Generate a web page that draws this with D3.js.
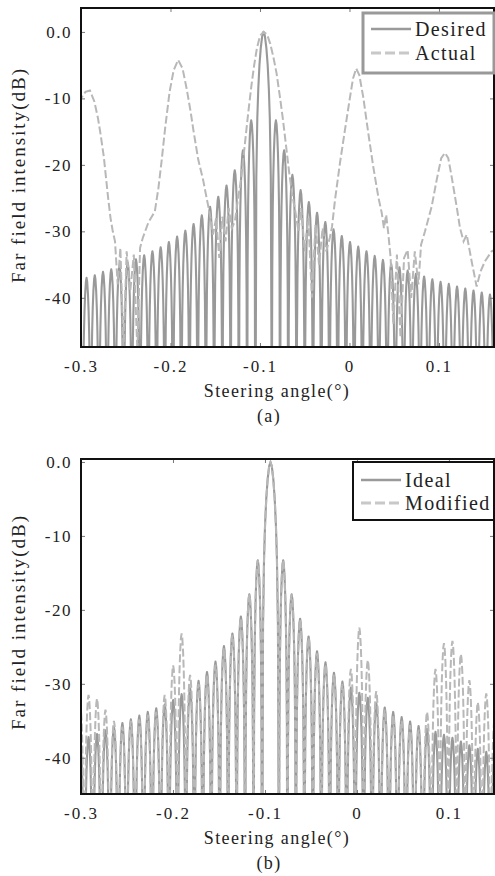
<!DOCTYPE html>
<html lang="en">
<head>
<meta charset="UTF-8">
<title>Far field intensity</title>
<script src="https://cdn.jsdelivr.net/npm/d3@7/dist/d3.min.js"></script>
<style>
  body { margin: 0; background: #fff; }
  svg { display: block; font-family: "Liberation Serif", "Times New Roman", serif; }
</style>
</head>
<body>
<script>
// axis ticks
const xTicks = [-0.3, -0.2, -0.1, 0, 0.1];
const xTickLabels = ['-0.3', '-0.2', '-0.1', '0', '0.1'];
const yTicks = [0, -10, -20, -30, -40];
const yTickLabels = ['0.0', '-10', '-20', '-30', '-40'];

// (a) nulls of the desired pattern (deg) and the peak of each lobe between two nulls (dB)
const nullsA = [-0.3076, -0.2984, -0.2892, -0.2800, -0.2708, -0.2616, -0.2524, -0.2432, -0.2340, -0.2248,
  -0.2156, -0.2064, -0.1972, -0.1880, -0.1788, -0.1696, -0.1604, -0.1512, -0.1420, -0.1328, -0.1236,
  -0.1144, -0.1052, -0.0868, -0.0776, -0.0684, -0.0592, -0.0500, -0.0408, -0.0316, -0.0224, -0.0132,
  -0.0040, 0.0052, 0.0144, 0.0236, 0.0328, 0.0420, 0.0512, 0.0604, 0.0696, 0.0788, 0.0880, 0.0972,
  0.1064, 0.1156, 0.1248, 0.1340, 0.1432, 0.1524, 0.1616, 0.1708];
const desiredPeaks = [-37.4, -37.0, -36.6, -36.1, -35.7, -35.2, -34.7, -34.2, -33.6, -33.0, -32.4,
  -31.6, -30.8, -29.9, -28.9, -27.6, -26.3, -24.8, -23.1, -20.8, -17.8, -13.3,
  0,
  -13.3, -17.8, -21.5, -23.8, -25.6, -27.2, -28.6, -29.7, -30.7, -31.6, -32.3, -33.0, -33.7, -34.3,
  -34.9, -35.4, -35.9, -36.4, -36.8, -37.2, -37.6, -37.9, -38.3, -38.6, -38.9, -39.2, -39.5, -39.8];

// (a) actual pattern [deg, dB]
const actualPoints = [[-0.304, -10.5], [-0.3, -10.0], [-0.295, -9.0], [-0.29, -8.8], [-0.285, -10.5],
  [-0.281, -13.0], [-0.278, -15.5], [-0.2745, -18.8], [-0.272, -22], [-0.2695, -25.2], [-0.267, -28],
  [-0.2645, -30.0], [-0.262, -31.5], [-0.259, -38], [-0.256, -32.5], [-0.2525, -48], [-0.249, -33],
  [-0.245, -39], [-0.241, -33.5], [-0.237, -48], [-0.234, -32.5], [-0.231, -31], [-0.2248, -28.7],
  [-0.2175, -27.0], [-0.2135, -23.5], [-0.21, -19.5], [-0.206, -14.5], [-0.201, -9.0], [-0.1965, -5.8],
  [-0.1915, -4.2], [-0.1865, -5.5], [-0.182, -8.5], [-0.1775, -12.0], [-0.1745, -14.7], [-0.169, -19.2],
  [-0.1635, -22.3], [-0.1596, -25.0], [-0.1559, -27.5], [-0.1525, -30.5], [-0.149, -28], [-0.1455, -34],
  [-0.142, -27.8], [-0.1385, -31.5], [-0.135, -26.5], [-0.1315, -29.5], [-0.128, -28.5], [-0.1255, -26],
  [-0.121, -22], [-0.117, -17], [-0.113, -12], [-0.1095, -8], [-0.1065, -5], [-0.1035, -2.5], [-0.1, -0.6],
  [-0.096, 0], [-0.092, -0.4], [-0.0885, -1.8], [-0.085, -3.8], [-0.0815, -6.2], [-0.078, -9.5],
  [-0.0745, -13], [-0.071, -17], [-0.0675, -21], [-0.064, -24.5], [-0.0605, -27], [-0.057, -30],
  [-0.054, -26.5], [-0.05, -33], [-0.046, -28], [-0.042, -40], [-0.038, -29], [-0.034, -35], [-0.03, -29.5],
  [-0.026, -33], [-0.022, -31], [-0.0195, -29.3], [-0.0162, -25.3], [-0.0106, -19.7], [-0.005, -14.7],
  [0.0006, -9.8], [0.004, -7], [0.0075, -5.5], [0.011, -6.5], [0.0154, -9.8], [0.021, -15.2], [0.0266, -20.3],
  [0.0322, -24.8], [0.036, -27.2], [0.0385, -29.5], [0.041, -27.5], [0.0435, -30.5], [0.046, -34],
  [0.049, -44], [0.053, -33.5], [0.057, -46], [0.061, -34], [0.065, -32.8], [0.069, -40], [0.073, -33],
  [0.077, -38], [0.08, -32], [0.0844, -30], [0.0918, -26.3], [0.0974, -22.3], [0.1025, -19], [0.1067, -18.2],
  [0.1104, -19], [0.1142, -21.8], [0.1198, -26.3], [0.1235, -29.5], [0.1275, -31.5], [0.131, -30.5],
  [0.1365, -34.5], [0.1421, -38.3], [0.1465, -36], [0.1514, -34.5], [0.1589, -33], [0.166, -32.5]];

// (b) nulls (deg) and lobe peaks (dB) of ideal and modified patterns
const nullsB = [-0.3148, -0.3056, -0.2964, -0.2872, -0.2780, -0.2688, -0.2596, -0.2504, -0.2412, -0.2320,
  -0.2228, -0.2136, -0.2044, -0.1952, -0.1860, -0.1768, -0.1676, -0.1584, -0.1492, -0.1400, -0.1308,
  -0.1216, -0.1124, -0.1032, -0.0848, -0.0756, -0.0664, -0.0572, -0.0480, -0.0388, -0.0296, -0.0204,
  -0.0112, -0.0020, 0.0072, 0.0164, 0.0256, 0.0348, 0.0440, 0.0532, 0.0624, 0.0716, 0.0808, 0.0900,
  0.0992, 0.1084, 0.1176, 0.1268, 0.1360, 0.1452, 0.1544];
const idealPeaks = [-38.0, -37.6, -37.2, -36.8, -36.3, -35.8, -35.3, -34.8, -34.3, -33.8, -33.3, -32.8,
  -32.2, -31.4, -30.6, -29.6, -28.4, -27.0, -24.9, -23.2, -20.9, -17.9, -13.3,
  0,
  -13.3, -17.9, -21.2, -23.6, -25.6, -27.1, -28.5, -29.7, -30.5, -31.2, -31.9, -32.6, -33.2, -33.8,
  -34.5, -35.1, -35.7, -36.1, -36.5, -36.9, -37.3, -37.8, -38.3, -38.8, -39.2, -39.5];
const modifiedPeaks = [-37.0, -32.5, -31.5, -32.0, -33.5, -35.0, -35.8, -35.0, -34.8, -34.2, -33.8, -31.5,
  -27.5, -23.2, -28.8, -30.0, -28.8, -27.4, -25.2, -23.4, -21.1, -17.9, -13.3,
  0,
  -13.3, -17.9, -21.3, -23.8, -25.9, -27.4, -28.8, -30.0, -28.0, -22.4, -26.8, -31.0, -33.5, -34.2,
  -35.0, -35.6, -36.2, -33.8, -28.0, -24.5, -24.2, -26.0, -29.5, -32.5, -31.3, -34.5];

// shape of one lobe: [fraction of lobe width from the null, dB below the peak]
const lobeShape = [[0, -60], [0.06, -22], [0.12, -13], [0.18, -8.5], [0.25, -5], [0.33, -2.4], [0.42, -0.6], [0.5, 0]];

function lobePoints(nulls, peaks) {
  const pts = [];
  peaks.forEach((p, i) => {
    const a0 = nulls[i], a1 = nulls[i + 1], w = a1 - a0;
    const rise = lobeShape.map(([u, d]) => [a0 + u * w, p + d]);
    const fall = lobeShape.slice(0, -1).reverse().map(([u, d]) => [a1 - u * w, p + d]);
    (i === 0 ? rise : rise.slice(1)).forEach(q => pts.push(q));
    fall.forEach(q => pts.push(q));
  });
  return pts;
}

const svg = d3.select('body').append('svg').attr('width', 495).attr('height', 876);

function drawPanel(cfg) {
  const x = d3.scaleLinear().domain(cfg.xDomain).range([cfg.left, cfg.right]);
  const y = d3.scaleLinear().domain(cfg.yDomain).range([cfg.bottom, cfg.top]);
  const g = svg.append('g');

  g.append('clipPath').attr('id', cfg.id).append('rect')
    .attr('x', cfg.left).attr('y', cfg.top)
    .attr('width', cfg.right - cfg.left).attr('height', cfg.bottom - cfg.top);

  const line = d3.line().x(d => x(d[0])).y(d => y(d[1]));
  const plot = g.append('g').attr('clip-path', `url(#${cfg.id})`);

  plot.append('path').attr('d', line(cfg.solid))
    .attr('fill', 'none').attr('stroke', '#555').attr('stroke-opacity', 0.6)
    .attr('stroke-width', 2.1).attr('stroke-linejoin', 'round');
  plot.append('path').attr('d', line(cfg.dashed))
    .attr('fill', 'none').attr('stroke', '#b8b8b8')
    .attr('stroke-width', 2).attr('stroke-dasharray', '8,3');

  // ticks on all four sides, pointing in
  const tickStyle = sel => {
    sel.select('.domain').remove();
    sel.selectAll('.tick line').attr('stroke', '#777');
  };
  g.append('g').attr('transform', `translate(0,${cfg.bottom})`)
    .call(d3.axisBottom(x).tickValues(xTicks).tickSize(-4).tickPadding(13)
      .tickFormat((d, i) => xTickLabels[i]))
    .call(tickStyle)
    .selectAll('text').attr('font-family', 'Liberation Serif').attr('font-size', 17)
    .attr('letter-spacing', 2).attr('fill', '#222');
  g.append('g').attr('transform', `translate(0,${cfg.top})`)
    .call(d3.axisTop(x).tickValues(xTicks).tickSize(-4).tickFormat(''))
    .call(tickStyle);
  g.append('g').attr('transform', `translate(${cfg.left},0)`)
    .call(d3.axisLeft(y).tickValues(yTicks).tickSize(-4).tickPadding(9)
      .tickFormat((d, i) => yTickLabels[i]))
    .call(tickStyle)
    .selectAll('text').attr('font-family', 'Liberation Serif').attr('font-size', 17)
    .attr('letter-spacing', 1.5).attr('fill', '#222');
  g.append('g').attr('transform', `translate(${cfg.right},0)`)
    .call(d3.axisRight(y).tickValues(yTicks).tickSize(-4).tickFormat(''))
    .call(tickStyle);

  g.append('rect').attr('x', cfg.left).attr('y', cfg.top)
    .attr('width', cfg.right - cfg.left).attr('height', cfg.bottom - cfg.top)
    .attr('fill', 'none').attr('stroke', '#111').attr('stroke-width', 2);

  // titles
  g.append('text').attr('transform', `translate(18,${cfg.yTitleAt}) rotate(-90)`)
    .attr('text-anchor', 'middle').attr('dy', '0.35em')
    .attr('font-size', 19).attr('letter-spacing', 2).attr('fill', '#222')
    .text('Far field intensity(dB)');
  g.append('text').attr('x', 277).attr('y', cfg.bottom + 44)
    .attr('text-anchor', 'middle').attr('dy', '0.35em')
    .attr('font-size', 18).attr('letter-spacing', 1.4).attr('fill', '#222')
    .text('Steering angle(°)');
  g.append('text').attr('x', 269).attr('y', cfg.bottom + 69)
    .attr('text-anchor', 'middle').attr('dy', '0.35em')
    .attr('font-size', 18).attr('letter-spacing', 1.4).attr('fill', '#222')
    .text(cfg.tag);

  // legend
  const L = cfg.legend;
  g.append('rect').attr('x', L.x).attr('y', L.y).attr('width', cfg.right - L.x).attr('height', L.h)
    .attr('fill', '#fff').attr('stroke', L.border).attr('stroke-width', L.borderWidth);
  L.names.forEach((name, i) => {
    const ly = L.y + L.rowTop + i * L.rowGap;
    g.append('line').attr('x1', L.x + 8).attr('x2', L.x + 8 + L.sample).attr('y1', ly).attr('y2', ly)
      .attr('stroke', i === 0 ? '#9a9a9a' : '#c8c8c8').attr('stroke-width', i === 0 ? 2.5 : 3)
      .attr('stroke-dasharray', i === 0 ? null : '10,4');
    g.append('text').attr('x', L.x + 12 + L.sample).attr('y', ly).attr('dy', '0.35em')
      .attr('font-size', 20).attr('letter-spacing', 1.4).attr('fill', '#222').text(name);
  });
}

drawPanel({
  id: 'clipA', left: 81, right: 494, top: 8, bottom: 347,
  xDomain: [-0.3, 0.1615], yDomain: [-47.4, 3.6],
  solid: lobePoints(nullsA, desiredPeaks), dashed: actualPoints,
  yTitleAt: 175, tag: '(a)',
  legend: { x: 363, y: 13, h: 60, rowTop: 16, rowGap: 24, sample: 40, border: '#999', borderWidth: 3,
    names: ['Desired', 'Actual'] }
});

drawPanel({
  id: 'clipB', left: 81, right: 494, top: 459, bottom: 794,
  xDomain: [-0.3, 0.149], yDomain: [-44.9, 0.4],
  solid: lobePoints(nullsB, idealPeaks), dashed: lobePoints(nullsB, modifiedPeaks),
  yTitleAt: 622, tag: '(b)',
  legend: { x: 353, y: 462, h: 58, rowTop: 18, rowGap: 23, sample: 40, border: '#111', borderWidth: 2,
    names: ['Ideal', 'Modified'] }
});
</script>
</body>
</html>
